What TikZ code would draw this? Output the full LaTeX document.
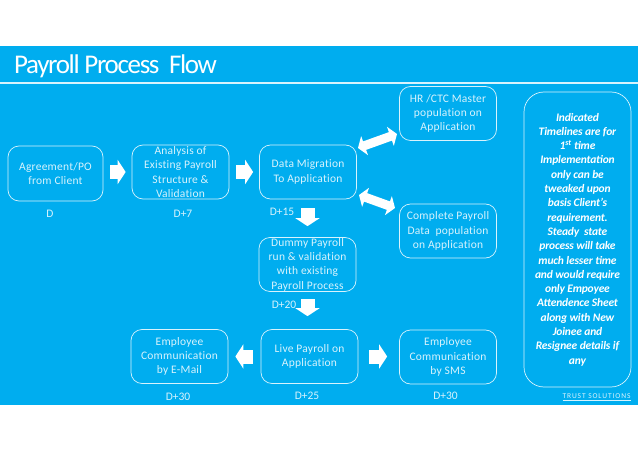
\documentclass[tikz,border=0pt]{standalone}
\usepackage{fontspec}
\setmainfont{Carlito}
\usetikzlibrary{arrows.meta}
\definecolor{slideblue}{HTML}{00ADEF}
\definecolor{softwhite}{HTML}{D8F3FD}
\begin{document}
\begin{tikzpicture}[x=1pt, y=-1pt,
    stepbox/.style ={rectangle, draw=softwhite, line width=0.7pt, rounded corners=11pt, inner sep=0pt,
      minimum width=97pt, minimum height=54pt, align=center, text=softwhite,
      font=\fontsize{11.5}{14.3}\selectfont\addfontfeatures{LetterSpace=2,Ligatures=NoCommon}},
    daylabel/.style ={inner sep=0pt, text=softwhite, font=\fontsize{11.5}{14}\selectfont},
    blockarrow/.style ={draw=white, line width=14pt, -{Triangle[length=8pt, width=24pt]}, shorten <=7pt, shorten >=6pt},
    blockboth/.style ={draw=white, line width=9pt, {Triangle[length=7pt, width=20pt]}-{Triangle[length=7pt, width=20pt]}}]
   \useasboundingbox (0,0) rectangle (638,452);
   \fill[white] (0,0) rectangle (638,452);
   \fill[slideblue] (0,46) rectangle (638,405);
   \draw[softwhite, line width=1.3pt] (0,83) -- (638,83);
   \node[inner sep=0pt, anchor=west, text=white, font=\fontsize{27}{30}\selectfont\addfontfeatures{LetterSpace=-5}] (title) at (14,66) {Payroll Process~~Flow};
   % process boxes
   \node[stepbox, minimum width=95pt, minimum height=55pt] (agreement) at (55.5,173.5) {Agreement/PO\\from Client};
   \node[stepbox] (analysis)  at (180.5,172) {Analysis of\\Existing Payroll\\Structure \&\\Validation};
   \node[stepbox] (migration) at (308,172) {Data Migration\\To Application};
   \node[stepbox] (master)    at (448,113.5) {HR /CTC Master\\population on\\Application};
   \node[stepbox] (complete)  at (448,231) {Complete Payroll\\Data~~population\\on Application};
   \node[stepbox] (dummy)     at (307.5,264.5) {Dummy Payroll\\run \& validation\\with existing\\Payroll Process};
   \node[stepbox] (live)      at (309.5,356.5) {Live Payroll on\\Application};
   \node[stepbox] (mail)      at (179.5,356.5) {Employee\\Communication\\by E-Mail};
   \node[stepbox] (sms)       at (448,357) {Employee\\Communication\\by SMS};
   % timeline note
   \node[rectangle, draw=softwhite, line width=0.7pt, rounded corners=20pt, inner sep=0pt,
      minimum width=107pt, minimum height=295pt, align=center, text=white,
      font=\fontsize{11.5}{14.3}\selectfont\bfseries\itshape\addfontfeatures{LetterSpace=-1.5}] (note) at (577.5,239.5)
      {Indicated\\Timelines are for\\1\textsuperscript{st} time\\Implementation\\only can be\\tweaked upon\\basis Client's\\requirement.\\Steady~~state\\process will take\\much lesser time\\and would require\\only Empoyee\\Attendence Sheet\\along with New\\Joinee and\\Resignee details if\\any};
   % day labels
   \node[daylabel] (dayA) at (50,214) {D};
   \node[daylabel] (dayB) at (183,214) {D+7};
   \node[daylabel] (dayC) at (282,212) {D+15};
   \node[daylabel] (dayD) at (284,305) {D+20};
   \node[daylabel] (dayE) at (178,397) {D+30};
   \node[daylabel] (dayF) at (307,396) {D+25};
   \node[daylabel] (dayG) at (445.5,396) {D+30};
   \node[inner sep=0pt, text=softwhite, font=\fontsize{7.5}{9}\selectfont\addfontfeatures{LetterSpace=12}] (trust) at (596.5,397.5) {\underline{TRUST SOLUTIONS}};
   % arrows
   \coordinate (masterfrom) at (358,148);
   \coordinate (masterto) at (397,134);
   \coordinate (completefrom) at (359,195);
   \coordinate (completeto) at (395,208);
   \draw[blockarrow] (agreement.east |- analysis.east) -- (analysis.west);
   \draw[blockarrow] (analysis.east) -- (migration.west);
   \draw[blockarrow, shorten <=9pt, shorten >=11pt] (migration.south -| dummy.north) -- (dummy.north);
   \draw[blockarrow, shorten <=7.5pt, shorten >=13pt] (dummy.south) -- (dummy.south |- live.north);
   \draw[blockarrow, shorten <=8pt, shorten >=7pt] (live.west) -- (mail.east);
   \draw[blockarrow, shorten <=11pt, shorten >=12pt] (live.east) -- (live.east -| sms.west);
   \draw[blockboth] (masterfrom) -- (masterto);
   \draw[blockboth] (completefrom) -- (completeto);
 \end{tikzpicture}
\end{document}
